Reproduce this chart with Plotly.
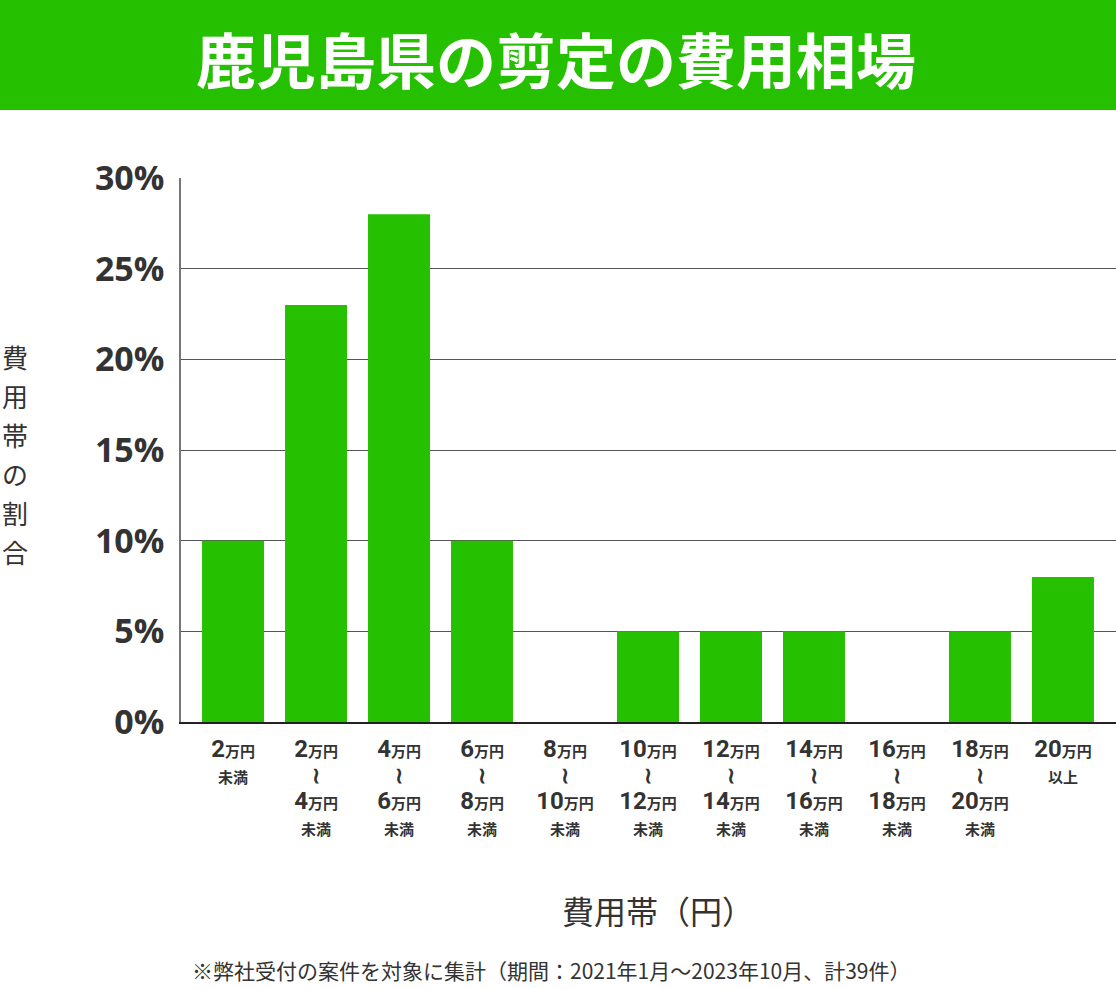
import plotly.graph_objects as go

categories = ["2万円未満", "2万円～4万円未満", "4万円～6万円未満", "6万円～8万円未満", "8万円～10万円未満",
              "10万円～12万円未満", "12万円～14万円未満", "14万円～16万円未満", "16万円～18万円未満",
              "18万円～20万円未満", "20万円以上"]
values = [10, 23, 28, 10, 0, 5, 5, 5, 0, 5, 8]
lower = ["2", "2", "4", "6", "8", "10", "12", "14", "16", "18", "20"]
upper = [None, "4", "6", "8", "10", "12", "14", "16", "18", "20", None]
suffix_single = {0: "未満", 10: "以上"}
ytick_vals = [0, 5, 10, 15, 20, 25, 30]
ytick_text = ["0%", "5%", "10%", "15%", "20%", "25%", "30%"]

title_text = "鹿児島県の剪定の費用相場"
ytitle = "費用帯の割合"
xtitle = "費用帯（円）"
note = "※弊社受付の案件を対象に集計（期間：2021年1月～2023年10月、計39件）"

GREEN = "#25C000"
DARK = "#333333"
W, H = 1116, 989
L, R, T, B = 181, 0, 178, 267
PW, PH = W - L - R, H - T - B


def px2x(px):
    return (px - L) / PW


def py2y(py):
    return (H - B - py) / PH


def num(s):
    return f'<span style="font-size:24px">{s}</span><span style="font-size:15px">万円</span>'


ticktext = []
for i in range(len(categories)):
    if upper[i] is None:
        ticktext.append(num(lower[i]) + f'<br><span style="font-size:15px">{suffix_single[i]}</span>')
    else:
        ticktext.append(num(lower[i]) + '<br><span style="font-size:22px">≀</span><br>' + num(upper[i]) +
                        '<br><span style="font-size:15px">未満</span>')

fig = go.Figure()
fig.add_trace(go.Bar(x=list(range(len(categories))), y=values, marker=dict(color=GREEN, line=dict(width=0)),
                     width=0.747, hoverinfo="skip"))

fig.update_layout(
    width=W, height=H,
    margin=dict(l=L, r=R, t=T, b=B, pad=0),
    paper_bgcolor="white", plot_bgcolor="white",
    showlegend=False,
    font=dict(family="Roboto, 'Noto Sans CJK JP', sans-serif", color=DARK),
    xaxis=dict(range=[-0.627, 10.639], tickmode="array", tickvals=list(range(len(categories))),
               ticktext=ticktext, tickfont=dict(size=20, family="Roboto, 'Noto Sans CJK JP'", weight="bold", color=DARK),
               showline=True, linecolor="#222222", linewidth=2, showgrid=False, zeroline=False,
               ticks="", ticklabelstandoff=9, fixedrange=True),
    yaxis=dict(range=[0, 30], tickmode="array", tickvals=ytick_vals, ticktext=ytick_text,
               tickfont=dict(size=34, family="'Open Sans', sans-serif", weight="bold", color=DARK),
               showgrid=True, gridcolor="#555555", gridwidth=1, zeroline=False,
               showline=True, linecolor="#777777", linewidth=1.5, ticks="", ticklabelstandoff=8,
               fixedrange=True),
)

# title band
fig.add_shape(type="rect", xref="paper", yref="paper", x0=px2x(0), x1=px2x(W), y0=py2y(110), y1=py2y(0),
              fillcolor=GREEN, line=dict(width=0), layer="below")
fig.add_annotation(xref="paper", yref="paper", x=px2x(556), y=py2y(57), text=title_text, showarrow=False,
                   font=dict(size=60, color="white", family="'Noto Sans CJK JP'", weight="bold"),
                   xanchor="center", yanchor="middle")

# y title (vertical)
for k, ch in enumerate(ytitle):
    fig.add_annotation(xref="paper", yref="paper", x=px2x(15), y=py2y(356 + k * 39), text=ch, showarrow=False,
                       font=dict(size=26, color=DARK, family="'Noto Sans CJK JP'"),
                       xanchor="center", yanchor="middle")

fig.add_annotation(xref="paper", yref="paper", x=px2x(658), y=py2y(910), text=xtitle, showarrow=False,
                   font=dict(size=32, color=DARK, family="'Noto Sans CJK JP'"), xanchor="center", yanchor="middle")

fig.add_annotation(xref="paper", yref="paper", x=px2x(551), y=py2y(970), text=note, showarrow=False,
                   font=dict(size=21, color=DARK, family="'Noto Sans CJK JP'"), xanchor="center", yanchor="middle")

fig.write_html("out.html", config={"displayModeBar": False},
               post_script="document.body.style.margin='0';document.body.style.padding='0';")
